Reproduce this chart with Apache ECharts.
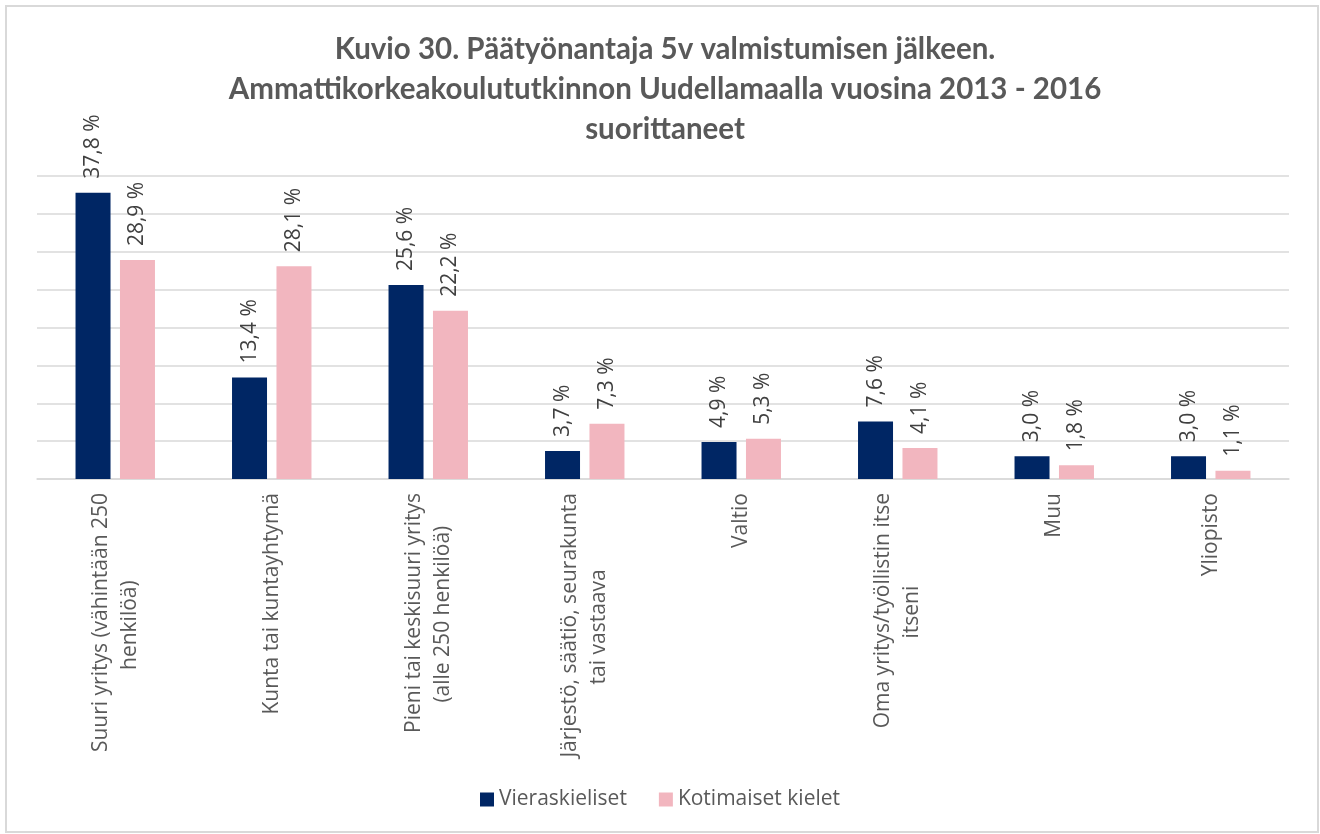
<!DOCTYPE html>
<html>
<head>
<meta charset="utf-8">
<script src="https://cdn.jsdelivr.net/npm/echarts@6/dist/echarts.min.js"></script>
<style>
  html, body { margin: 0; padding: 0; background: #fff; }
  #main { width: 1320px; height: 834px; }
  #frame { position: absolute; left: 5px; top: 5px; width: 1310px; height: 824px; border: 2px solid #d9d9d9; pointer-events: none; }
</style>
</head>
<body>
<div id="main"></div>
<div id="frame"></div>
<script>
var kategoriat = [
  'Suuri yritys (vähintään 250\nhenkilöä)',
  'Kunta tai kuntayhtymä',
  'Pieni tai keskisuuri yritys\n(alle 250 henkilöä)',
  'Järjestö, säätiö, seurakunta\ntai vastaava',
  'Valtio',
  'Oma yritys/työllistin itse\nitseni',
  'Muu',
  'Yliopisto'
]
var vieraskieliset = [37.8, 13.4, 25.6, 3.7, 4.9, 7.6, 3.0, 3.0]
var kotimaiset = [28.9, 28.1, 22.2, 7.3, 5.3, 4.1, 1.8, 1.1]
var sarjat = ['Vieraskieliset', 'Kotimaiset kielet']

var fontti = '"Open Sans", sans-serif'
var kokoTeksti = 21

// lyhyempi rivi keskitetään lisäämällä välilyöntejä loppuun
var mittari = document.createElement('canvas').getContext('2d')
mittari.font = kokoTeksti + 'px "Open Sans"'
var valiLeveys = mittari.measureText('\u00a0').width
function keskita(k) {
  var rivit = k.split('\n')
  if (rivit.length < 2) return k
  var w = rivit.map(function (r) { return mittari.measureText(r).width })
  var max = Math.max.apply(null, w)
  return rivit.map(function (r, i) {
    var n = Math.round((max - w[i]) / 2 / valiLeveys)
    return r + new Array(n + 1).join('\u00a0')
  }).join('\n')
}

function arvoLabel(p) {
  return p.value.toFixed(1).replace('.', ',') + ' %'
}

var dataLabel = {
  show: true,
  position: 'top',
  rotate: 90,
  align: 'left',
  verticalAlign: 'middle',
  distance: 14,
  fontFamily: fontti,
  fontSize: kokoTeksti,
  color: '#404040',
  formatter: arvoLabel
}

var myChart = echarts.init(document.getElementById('main'))
var option = {
  backgroundColor: '#fff',
  animation: false,
  title: {
    text: 'Kuvio 30. Päätyönantaja 5v valmistumisen jälkeen.\nAmmattikorkeakoulututkinnon Uudellamaalla vuosina 2013 - 2016\nsuorittaneet',
    left: 660,
    top: 24,
    textAlign: 'center',
    textStyle: {
      fontFamily: 'Lato, sans-serif',
      fontWeight: 'bold',
      fontSize: 29.5,
      lineHeight: 40,
      color: '#595959'
    }
  },
  legend: {
    bottom: 19,
    left: 'center',
    itemWidth: 14,
    itemHeight: 14,
    itemGap: 32,
    icon: 'rect',
    textStyle: { fontFamily: fontti, fontSize: kokoTeksti, color: '#595959' },
    data: sarjat
  },
  grid: { left: 37, right: 31, top: 176, bottom: 355, containLabel: false, outerBoundsMode: 'none' },
  xAxis: {
    type: 'category',
    data: kategoriat,
    axisTick: { show: false },
    axisLine: { lineStyle: { color: '#d9d9d9', width: 1.5 } },
    axisLabel: {
      interval: 0,
      rotate: 90,
      margin: 14,
      fontFamily: fontti,
      fontSize: kokoTeksti,
      lineHeight: 29,
      color: '#595959',
      formatter: keskita
    }
  },
  yAxis: {
    type: 'value',
    min: 0,
    max: 40,
    interval: 5,
    axisLabel: { show: false },
    axisLine: { show: false },
    axisTick: { show: false },
    splitLine: { lineStyle: { color: '#d9d9d9', width: 1.5 } }
  },
  series: [
    {
      name: sarjat[0],
      type: 'bar',
      data: vieraskieliset,
      barWidth: 35,
      barGap: '27%',
      itemStyle: { color: '#002664' },
      label: dataLabel
    },
    {
      name: sarjat[1],
      type: 'bar',
      data: kotimaiset,
      barWidth: 35,
      itemStyle: { color: '#f2b6bf' },
      label: dataLabel
    }
  ]
}
myChart.setOption(option)
</script>
</body>
</html>
